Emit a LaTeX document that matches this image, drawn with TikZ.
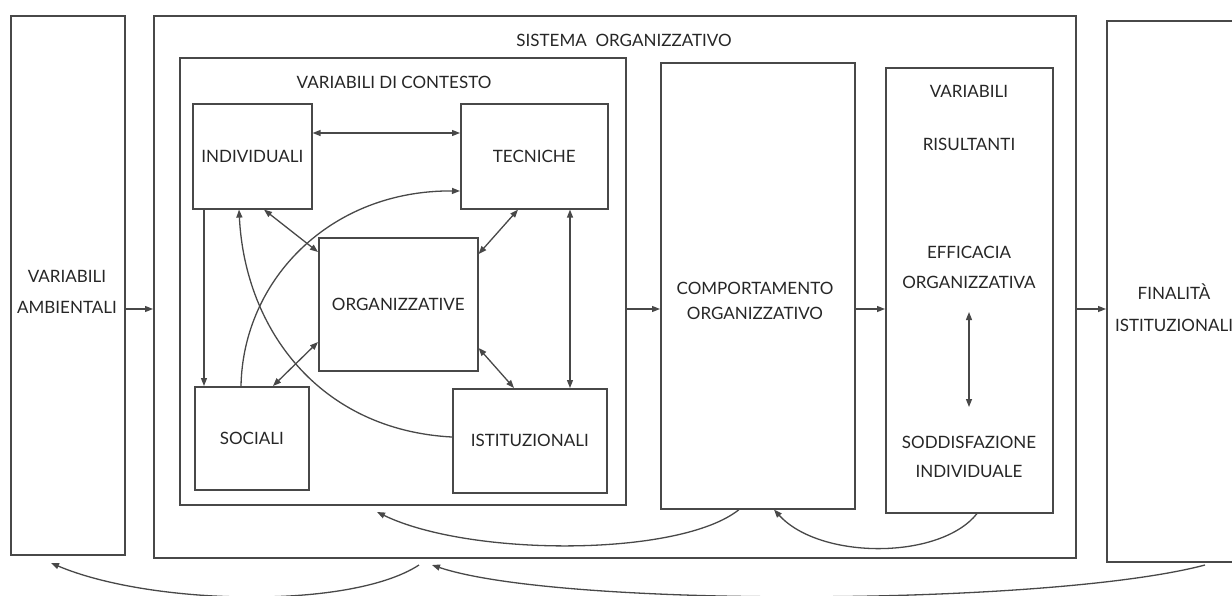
\documentclass[tikz,border=0pt]{standalone}
\usepackage{fontspec}
\setmainfont{Lato}
\usetikzlibrary{arrows.meta,positioning,calc}
\definecolor{orgLine}{HTML}{484848}
\definecolor{orgInk}{HTML}{262626}

\begin{document}
\begin{tikzpicture}[
  x=.5pt,y=-.5pt,
  box/.style={draw=orgLine,line width=.8pt,inner sep=0pt,anchor=north west,
    font=\fontsize{8.5}{10}\selectfont,text=orgInk},
  lab/.style={font=\fontsize{8.5}{10}\selectfont,color=orgInk,inner sep=0pt,align=center},
  link/.style={draw=orgLine,line width=.65pt,-{Triangle[length=4pt,width=3pt]}},
  both/.style={link,{Triangle[length=4pt,width=3pt]}-{Triangle[length=4pt,width=3pt]}}
]
  \useasboundingbox (0,0) rectangle (1232,595);
  \clip (0,0) rectangle (1232,595);
  \node[box,minimum width=57pt,minimum height=269.5pt] (amb) at (10,15) {};
  \node[box,minimum width=461pt,minimum height=271pt] (sis) at (153,15) {};
  \node[box,minimum width=223pt,minimum height=223.5pt] (ctx) at (179,57) {};
  \node[box,minimum width=59.5pt,minimum height=52.5pt] (ind) at (192,103) {INDIVIDUALI};
  \node[box,minimum width=73.5pt,minimum height=52.5pt] (tec) at (460,103) {TECNICHE};
  \node[box,minimum width=79.5pt,minimum height=66.5pt] (org) at (318,237) {ORGANIZZATIVE};
  \node[box,minimum width=57pt,minimum height=51.5pt] (soc) at (194,386) {SOCIALI};
  \node[box,minimum width=77pt,minimum height=52pt] (ist) at (452,388) {ISTITUZIONALI};
  \node[box,minimum width=97pt,minimum height=223pt] (cmp) at (660,62) {};
  \node[box,minimum width=83.5pt,minimum height=222.5pt] (ris) at (885,67) {};
  \node[box,minimum width=68pt,minimum height=270.5pt] (fin) at (1106,20) {};

  \node[lab] (sisTitle) at (624,40) {SISTEMA\ \ ORGANIZZATIVO};
  \node[lab] (ctxTitle) at (394,82) {VARIABILI DI CONTESTO};
  \node[lab,font=\fontsize{8.5}{15.5}\selectfont] (ambTxt) at (67,292) {VARIABILI\\AMBIENTALI};
  \node[lab,font=\fontsize{8.5}{12.5}\selectfont] (cmpTxt) at (755,301) {COMPORTAMENTO\\ORGANIZZATIVO};
  \node[lab] (risTop) at (969,91) {VARIABILI};
  \node[lab] (risSub) at (969,144) {RISULTANTI};
  \node[lab,font=\fontsize{8.5}{15}\selectfont] (eff) at (969,267) {EFFICACIA\\ORGANIZZATIVA};
  \node[lab,font=\fontsize{8.5}{14.5}\selectfont] (sod) at (969,457) {SODDISFAZIONE\\INDIVIDUALE};
  \node[lab,font=\fontsize{8.5}{16}\selectfont] (finTxt) at (1174,308) {FINALITÀ\\ISTITUZIONALI};

  \coordinate (mid) at (0,309);
  \draw[link] (amb.east |- mid) -- (sis.west |- mid);
  \draw[link] (ctx.east |- mid) -- (cmp.west |- mid);
  \draw[link] (cmp.east |- mid) -- (ris.west |- mid);
  \draw[link] (sis.east |- mid) -- (fin.west |- mid);

  \draw[both] (ind.east |- 0,133) -- (tec.west |- 0,133);
  \draw[link] (ind.south -| 204,0) -- (soc.north -| 204,0);
  \draw[both] (tec.south -| 570,0) -- (ist.north -| 570,0);
  \draw[both] (ind.south -| 264,0) -- (org.west |- 0,252);
  \draw[both] (tec.south -| 518,0) -- (org.east |- 0,254);
  \draw[both] (soc.north -| 273,0) -- (org.west |- 0,342);
  \draw[both] (org.east |- 0,348) -- (ist.north -| 514,0);
  \draw[link] (soc.north -| 241,0) .. controls (243,280) and (330,190) .. (tec.west |- 0,191);
  \draw[link] (ist.west |- 0,437) .. controls (320,430) and (245,330) .. (ind.south -| 239,0);
  \draw[both] (eff.south |- 0,312) -- (sod.north |- 0,407);

  \coordinate (ctxIn) at (377,512);
  \coordinate (sisOut) at (419,565);
  \coordinate (sisIn) at (432,565);
  \coordinate (ambIn) at (51,563);
  \coordinate (finOut) at (1205,565);
  \draw[link] (cmp.south -| 739,0) .. controls (680,557) and (470,557) .. (ctxIn);
  \draw[link] (ris.south -| 977,0) .. controls (940,560) and (820,560) .. (cmp.south -| 774,0);
  \draw[link] (sisOut) .. controls (350,610) and (150,605) .. (ambIn);
  \draw[link] (finOut) .. controls (1050,606) and (560,608) .. (sisIn);
\end{tikzpicture}
\end{document}
